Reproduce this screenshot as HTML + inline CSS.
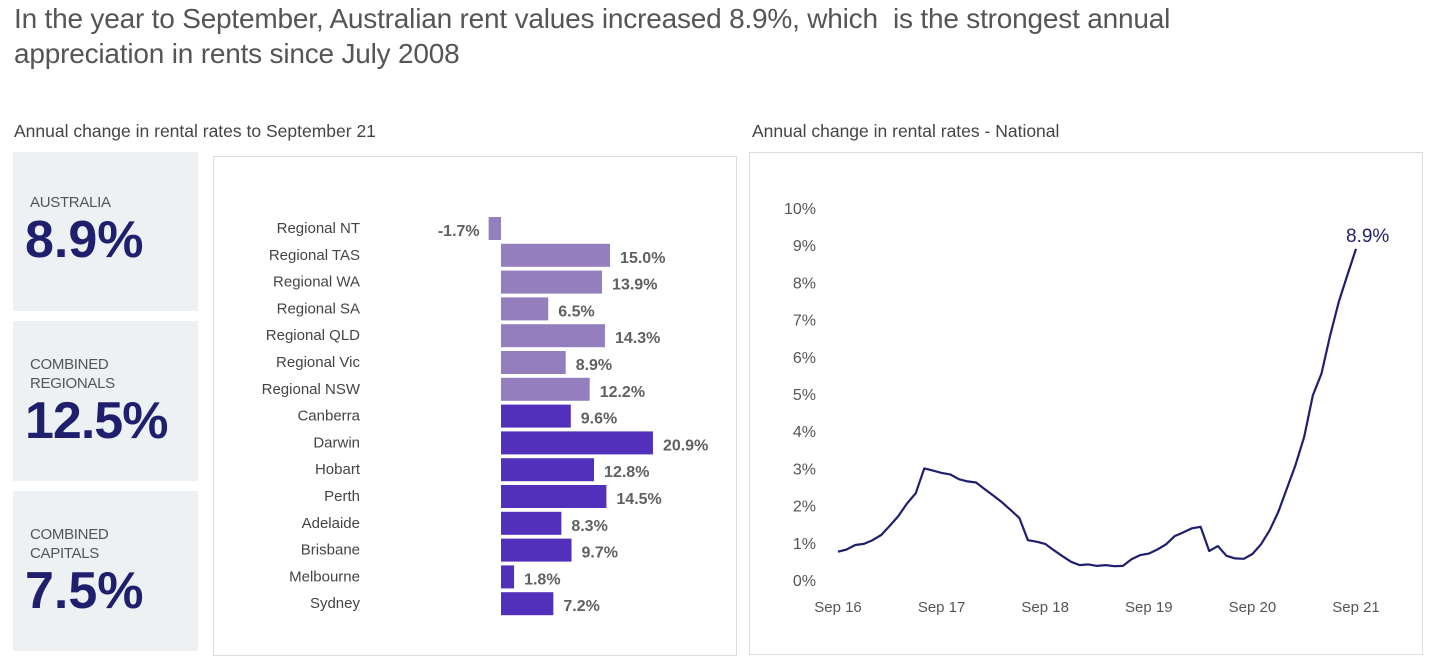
<!DOCTYPE html>
<html><head><meta charset="utf-8">
<style>
body{margin:0;width:1429px;height:663px;background:#fff;font-family:"Liberation Sans",sans-serif;position:relative;overflow:hidden;color:#444}
.abs{position:absolute}
.card{position:absolute;left:13px;width:185px;background:#EDF1F4}
.card .lab{position:absolute;left:17px;font-size:15px;color:#555;line-height:19px;letter-spacing:-0.3px}
.card .val{position:absolute;left:12px;font-size:52px;font-weight:bold;color:#1F1F6E;letter-spacing:0px}
</style></head><body>
<div class="abs" style="left:14px;top:1px;font-size:28px;line-height:35px;color:#555;letter-spacing:-0.2px">In the year to September, Australian rent values increased 8.9%, which&nbsp; is the strongest annual<br>appreciation in rents since July 2008</div>
<div class="abs" style="left:14px;top:121px;font-size:17.5px;color:#444">Annual change in rental rates to September 21</div>
<div class="abs" style="left:752px;top:121px;font-size:17.5px;color:#444">Annual change in rental rates - National</div>

<div class="card" style="top:152px;height:159px">
 <div class="lab" style="top:41px">AUSTRALIA</div><div class="val" style="top:58px">8.9%</div></div>
<div class="card" style="top:321px;height:160px">
 <div class="lab" style="top:34px">COMBINED<br>REGIONALS</div><div class="val" style="top:70px;letter-spacing:-1px">12.5%</div></div>
<div class="card" style="top:491px;height:160px">
 <div class="lab" style="top:34px">COMBINED<br>CAPITALS</div><div class="val" style="top:70px">7.5%</div></div>

<div class="abs" style="left:213px;top:156px;width:522px;height:498px;border:1px solid #ddd"></div>
<div class="abs" style="left:749px;top:152px;width:672px;height:501px;border:1px solid #ddd"></div>

<svg class="abs" style="left:0;top:0" width="1429" height="663" id="svg"></svg>
<script>
const barCategories=["Regional NT","Regional TAS","Regional WA","Regional SA","Regional QLD","Regional Vic","Regional NSW","Canberra","Darwin","Hobart","Perth","Adelaide","Brisbane","Melbourne","Sydney"];
const barValues=[-1.7,15.0,13.9,6.5,14.3,8.9,12.2,9.6,20.9,12.8,14.5,8.3,9.7,1.8,7.2];
const barIsRegional=[1,1,1,1,1,1,1,0,0,0,0,0,0,0,0];
const lineValues=[0.76,0.82,0.94,0.97,1.07,1.21,1.46,1.72,2.06,2.33,3.0,2.94,2.88,2.84,2.71,2.65,2.62,2.44,2.27,2.09,1.88,1.67,1.07,1.03,0.97,0.8,0.64,0.49,0.40,0.42,0.38,0.40,0.37,0.38,0.56,0.67,0.71,0.82,0.96,1.18,1.28,1.39,1.43,0.78,0.91,0.65,0.58,0.57,0.70,0.96,1.34,1.83,2.46,3.1,3.85,4.96,5.55,6.57,7.47,8.2,8.9];
const yTicks=[0,1,2,3,4,5,6,7,8,9,10];
const xTickLabels=["Sep 16","Sep 17","Sep 18","Sep 19","Sep 20","Sep 21"];
const NS="http://www.w3.org/2000/svg";
const svg=document.getElementById('svg');
function mk(t,a,txt){const e=document.createElementNS(NS,t);for(const k in a)e.setAttribute(k,a[k]);if(txt!==undefined)e.textContent=txt;svg.appendChild(e);return e;}
const bx=v=>501+v*7.27, by=i=>217+i*26.8;
barCategories.forEach((c,i)=>{
 const v=barValues[i];
 const r=mk('rect',{x:Math.min(bx(0),bx(v)),y:by(i),width:Math.abs(bx(v)-bx(0)),height:23,fill:barIsRegional[i]?'#957EBE':'#5230BB'});
 
 
 const l=mk('text',{x:360,y:by(i)+16,'text-anchor':'end','font-size':15,fill:'#444','font-family':'Liberation Sans'},c);
 
 
 const vl=mk('text',{x:v<0?bx(v)-9:bx(v)+10,y:by(i)+19,'text-anchor':v<0?'end':'start','font-size':16,fill:'#444','font-family':'Liberation Sans','font-weight':'bold','fill-opacity':0.85},v.toFixed(1)+'%');
 
 
});
const lx=i=>838+i*(518/(lineValues.length-1)), ly=v=>580-v*37.2;
yTicks.forEach(t=>{
 const e=mk('text',{x:816,y:ly(t)+6,'text-anchor':'end','font-size':16,fill:'#555','font-family':'Liberation Sans'},t+'%');
 
 
});
xTickLabels.forEach((t,i)=>{
 const e=mk('text',{x:lx(i*12),y:612,'text-anchor':'middle','font-size':15,fill:'#555','font-family':'Liberation Sans'},t);
 
 
});
const p=mk('path',{d:lineValues.map((v,i)=>(i?'L':'M')+lx(i).toFixed(1)+' '+ly(v).toFixed(1)).join(''),fill:'none',stroke:'#1F1F6E','stroke-width':2.2,'stroke-linejoin':'round'});


const last=lineValues[lineValues.length-1];
const el=mk('text',{x:lx(lineValues.length-1)-10,y:ly(last)-7,'font-size':19,fill:'#1F1F6E','font-family':'Liberation Sans'},last.toFixed(1)+'%');


</script>
</body></html>
